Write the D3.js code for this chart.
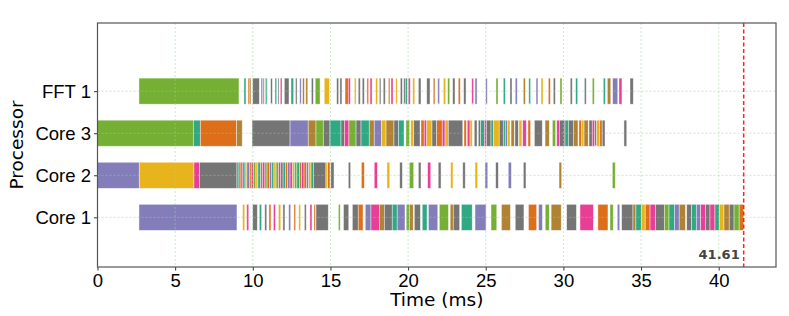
<!DOCTYPE html>
<html lang="en">
<head>
<meta charset="utf-8">
<script src="https://d3js.org/d3.v7.min.js"></script>
<style>
  body { margin: 0; background: white; }
  svg { font-family: 'DejaVu Sans', sans-serif; }
  .grid line { stroke: #9ad49a; stroke-width: 0.8; stroke-dasharray: 2,2; opacity: 0.65; }
  .axis text { font-size: 18.5px; fill: #000; }
  .axis line { stroke: #333; }
  .axis path { display: none; }
</style>
</head>
<body>
<svg width="789" height="316"></svg>
<script>
// processors, bottom to top
const processors = ["Core 1", "Core 2", "Core 3", "FFT 1"];
const xTicks = [0, 5, 10, 15, 20, 25, 30, 35, 40];
const makespan = 41.61;

// Dark2 palette keys
const palette = { T: "#1b9e77", O: "#d95f02", P: "#7570b3", K: "#e7298a",
                  G: "#66a61e", Y: "#e6ab02", B: "#a6761d", Gy: "#666666" };

// [start ms, end ms, colour key]
const core1 = [
  [2.67, 8.98, "P"], [9.34, 9.48, "Y"], [9.61, 9.74, "K"], [9.99, 10.29, "Gy"], [10.42, 10.57, "T"],
  [10.77, 10.9, "Gy"], [11.04, 11.17, "O"], [11.33, 11.46, "K"], [11.65, 11.8, "Y"], [11.94, 12.07, "Gy"],
  [12.31, 12.44, "P"], [12.65, 12.76, "O"], [12.96, 13.08, "Y"], [13.32, 13.44, "Gy"], [13.68, 13.81, "K"],
  [13.94, 14.04, "O"], [14.07, 14.86, "Gy"], [15.51, 15.63, "G"], [15.84, 16.18, "Gy"], [16.41, 16.79, "Gy"],
  [16.79, 17.1, "O"], [17.24, 17.61, "P"], [17.61, 18.15, "K"], [18.15, 18.47, "B"], [18.47, 18.98, "Gy"],
  [18.98, 19.3, "T"], [19.3, 19.8, "P"], [19.88, 20.08, "G"], [20.08, 20.33, "B"], [20.4, 20.79, "Gy"],
  [20.91, 21.22, "T"], [21.31, 21.91, "P"], [22.01, 22.6, "G"], [22.71, 22.91, "B"], [22.91, 23.32, "Gy"],
  [23.43, 24.13, "T"], [24.31, 25.02, "P"], [25.34, 25.71, "G"], [26.01, 26.59, "B"], [26.9, 27.46, "Gy"],
  [27.75, 28.28, "O"], [28.4, 28.65, "P"], [28.83, 29.09, "G"], [29.21, 29.86, "B"], [30.21, 30.84, "Gy"],
  [31.07, 31.93, "K"], [32.22, 32.87, "O"], [33.0, 33.21, "G"], [33.47, 33.63, "P"], [33.75, 34.48, "Gy"],
  [34.48, 34.67, "B"], [34.67, 35.02, "T"], [35.02, 35.27, "Y"], [35.27, 35.58, "O"], [35.58, 35.93, "K"],
  [35.93, 36.5, "Gy"], [36.5, 36.8, "G"], [36.8, 37.15, "T"], [37.15, 37.46, "P"], [37.46, 37.86, "B"],
  [37.94, 38.26, "Gy"], [38.26, 38.56, "T"], [38.56, 38.84, "P"], [38.84, 39.15, "K"], [39.15, 39.44, "Gy"],
  [39.44, 39.76, "K"], [39.76, 40.04, "T"], [40.04, 40.34, "Y"], [40.34, 40.68, "B"], [40.68, 40.99, "Gy"],
  [40.99, 41.32, "G"], [41.32, 41.61, "O"]
];

const core2 = [
  [0, 2.69, "P"], [2.69, 6.21, "Y"], [6.21, 6.56, "K"], [6.56, 8.98, "Gy"], [8.98, 9.11, "T"],
  [9.11, 9.24, "O"], [9.24, 9.36, "K"], [9.36, 9.5, "T"], [9.5, 9.62, "Y"], [9.62, 9.78, "P"],
  [9.78, 9.9, "O"], [9.9, 10.05, "K"], [10.05, 10.2, "G"], [10.2, 10.33, "Y"], [10.33, 10.5, "T"],
  [10.5, 10.62, "B"], [10.62, 10.78, "K"], [10.78, 10.92, "G"], [10.92, 11.07, "O"], [11.07, 11.22, "P"],
  [11.22, 11.36, "T"], [11.36, 11.5, "Y"], [11.5, 11.66, "G"], [11.66, 11.8, "K"], [11.8, 11.95, "Gy"],
  [11.95, 12.1, "T"], [12.1, 12.24, "O"], [12.24, 12.4, "P"], [12.4, 12.55, "K"], [12.55, 12.68, "Y"],
  [12.68, 12.84, "G"], [12.84, 13.0, "T"], [13.0, 13.14, "B"], [13.14, 13.3, "K"], [13.3, 13.45, "O"],
  [13.45, 13.6, "P"], [13.6, 13.75, "Y"], [13.75, 13.9, "T"], [13.9, 14.71, "Gy"], [14.71, 14.82, "Y"],
  [14.82, 14.97, "O"], [15.02, 15.23, "Gy"], [16.15, 16.3, "Gy"], [16.99, 17.18, "O"], [17.82, 18.02, "K"],
  [18.64, 18.82, "Y"], [19.46, 19.63, "Gy"], [20.08, 20.36, "G"], [20.66, 20.83, "Gy"], [21.26, 21.46, "K"],
  [21.94, 22.12, "Gy"], [22.74, 22.89, "Y"], [23.52, 23.68, "Gy"], [24.31, 24.48, "Y"], [24.95, 25.13, "P"],
  [25.64, 25.81, "Gy"], [26.45, 26.65, "P"], [27.42, 27.59, "Gy"], [29.72, 29.89, "B"], [33.15, 33.34, "G"]
];

const core3 = [
  [0, 6.17, "G"], [6.17, 6.62, "T"], [6.62, 8.96, "O"], [8.96, 9.32, "B"], [9.95, 12.4, "Gy"],
  [12.4, 13.57, "P"], [13.57, 14.07, "B"], [14.07, 14.54, "G"], [14.54, 14.97, "Gy"], [14.97, 15.68, "T"],
  [15.68, 15.9, "Gy"], [15.9, 16.19, "K"], [16.19, 16.65, "G"], [16.65, 16.97, "Gy"], [16.97, 17.5, "T"],
  [17.5, 17.82, "B"], [17.82, 18.29, "P"], [18.29, 18.58, "Y"], [18.58, 19.09, "B"], [19.09, 19.38, "Gy"],
  [19.38, 19.74, "T"], [19.86, 20.1, "G"], [20.17, 20.36, "Y"], [20.36, 20.77, "Gy"], [20.83, 21.04, "O"],
  [21.04, 21.2, "K"], [21.2, 21.54, "Y"], [21.54, 21.84, "Gy"], [21.84, 22.2, "O"], [22.2, 22.38, "K"],
  [22.38, 22.59, "Y"], [22.59, 23.52, "Gy"], [23.6, 23.75, "O"], [23.81, 23.99, "K"], [23.99, 24.13, "Y"],
  [24.26, 24.44, "Gy"], [24.52, 24.67, "Gy"], [24.67, 24.91, "T"], [24.91, 25.04, "K"], [25.04, 25.34, "Gy"],
  [25.34, 25.49, "T"], [25.49, 25.87, "Y"], [25.87, 26.13, "Gy"], [26.13, 26.26, "T"], [26.26, 26.4, "P"],
  [26.4, 26.56, "Y"], [26.63, 26.84, "B"], [26.88, 27.1, "Gy"], [27.14, 27.33, "Y"], [27.38, 27.61, "K"],
  [27.72, 27.89, "O"], [28.13, 28.64, "Gy"], [28.82, 29.09, "B"], [29.29, 29.5, "G"], [29.57, 29.74, "K"],
  [29.74, 30.1, "Gy"], [30.1, 30.32, "T"], [30.32, 30.64, "Gy"], [30.64, 30.94, "B"], [31.0, 31.18, "O"],
  [31.18, 31.33, "Y"], [31.33, 31.6, "B"], [31.65, 31.86, "Gy"], [31.86, 32.02, "K"], [32.02, 32.14, "Gy"],
  [32.14, 32.34, "Y"], [32.34, 32.5, "O"], [32.5, 32.68, "Gy"], [33.9, 34.08, "Gy"]
];

const fft1 = [
  [2.67, 9.11, "G"], [9.43, 9.56, "T"], [9.69, 9.77, "O"], [9.77, 9.88, "B"], [9.99, 10.42, "Gy"],
  [10.53, 10.64, "P"], [10.66, 10.74, "B"], [10.79, 10.85, "G"], [10.85, 10.93, "T"], [11.15, 11.26, "Gy"],
  [11.43, 11.54, "T"], [11.62, 11.69, "Gy"], [11.77, 11.88, "K"], [12.03, 12.33, "Gy"], [12.46, 12.63, "T"],
  [12.75, 12.85, "Gy"], [13.02, 13.12, "P"], [13.21, 13.32, "B"], [13.41, 13.54, "B"], [13.77, 13.9, "Gy"],
  [14.02, 14.33, "G"], [14.6, 14.93, "Y"], [15.4, 15.53, "Gy"], [15.61, 15.74, "Gy"], [15.94, 16.15, "O"],
  [16.15, 16.28, "K"], [16.54, 16.65, "Y"], [16.79, 16.92, "Gy"], [17.05, 17.18, "Gy"], [17.35, 17.46, "O"],
  [17.55, 17.68, "K"], [17.91, 18.04, "Y"], [18.15, 18.25, "Gy"], [18.4, 18.53, "Gy"], [18.73, 18.83, "O"],
  [18.9, 19.03, "K"], [19.2, 19.3, "Y"], [19.5, 19.63, "Gy"], [19.72, 19.82, "Gy"], [19.82, 19.95, "T"],
  [20.01, 20.14, "K"], [20.3, 20.43, "Y"], [20.66, 20.83, "Gy"], [21.2, 21.41, "Gy"], [21.62, 21.73, "O"],
  [21.91, 22.03, "P"], [22.27, 22.42, "Y"], [22.55, 22.68, "G"], [22.87, 23.02, "Gy"], [23.23, 23.36, "O"],
  [23.58, 23.73, "Gy"], [24.1, 24.22, "K"], [24.31, 24.44, "P"], [25.0, 25.1, "P"], [25.66, 25.79, "G"],
  [26.13, 26.26, "T"], [26.56, 26.69, "Gy"], [26.9, 27.03, "P"], [27.42, 27.55, "B"], [27.77, 27.89, "T"],
  [28.24, 28.36, "P"], [28.56, 28.69, "Y"], [29.03, 29.16, "O"], [29.35, 29.48, "Gy"], [29.78, 29.91, "G"],
  [30.44, 30.57, "Gy"], [30.79, 30.92, "T"], [31.35, 31.47, "Gy"], [31.86, 31.99, "G"], [32.57, 32.7, "T"],
  [32.83, 33.05, "B"], [33.17, 33.5, "P"], [33.58, 33.77, "K"], [34.29, 34.5, "Gy"]
];

const rows = [core1, core2, core3, fft1];

const margin = { top: 23, right: 13, bottom: 49, left: 97.5 };
const width = 789, height = 316;
const svg = d3.select("svg");

const x = d3.scaleLinear().domain([0, makespan * 1.05]).range([margin.left, width - margin.right]);
const y = d3.scaleLinear().domain([-1.18, 4.62]).range([height - margin.bottom, margin.top]);
const barH = y(0) - y(0.62);

// bars
const gBars = svg.append("g");
rows.forEach(function (row, i) {
  gBars.selectAll(null)
    .data(row)
    .enter().append("rect")
    .attr("x", d => x(d[0]))
    .attr("width", d => Math.max(0.5, x(d[1]) - x(d[0])))
    .attr("y", y(i) - barH / 2)
    .attr("height", barH)
    .attr("fill", d => palette[d[2]])
    .attr("fill-opacity", 0.9)
    .attr("stroke", "white")
    .attr("stroke-width", 0.7)
    .attr("stroke-opacity", 0.6);
});

// grid on top
const grid = svg.append("g").attr("class", "grid");
grid.selectAll(null).data(xTicks).enter().append("line")
  .attr("x1", d => x(d)).attr("x2", d => x(d))
  .attr("y1", margin.top).attr("y2", height - margin.bottom);
grid.selectAll(null).data(processors).enter().append("line")
  .attr("x1", margin.left).attr("x2", width - margin.right)
  .attr("y1", (d, i) => y(i)).attr("y2", (d, i) => y(i));

// makespan line
svg.append("line")
  .attr("x1", x(makespan)).attr("x2", x(makespan))
  .attr("y1", margin.top).attr("y2", height - margin.bottom)
  .attr("stroke", "#ff2020").attr("stroke-width", 1.5).attr("stroke-dasharray", "4,2.5");
svg.append("text")
  .attr("x", x(makespan) - 4).attr("y", height - margin.bottom - 8)
  .attr("text-anchor", "end")
  .attr("font-size", 13).attr("font-weight", "bold").attr("fill", "#444")
  .text(makespan.toFixed(2));

// axes
svg.append("g").attr("class", "axis")
  .attr("transform", "translate(0," + (height - margin.bottom) + ")")
  .call(d3.axisBottom(x).tickValues(xTicks).tickSize(3.5).tickPadding(3));
svg.append("g").attr("class", "axis")
  .attr("transform", "translate(" + margin.left + ",0)")
  .call(d3.axisLeft(y).tickValues([0, 1, 2, 3]).tickFormat(i => processors[i]).tickSize(3.5).tickPadding(3));

// frame
svg.append("rect")
  .attr("x", margin.left).attr("y", margin.top)
  .attr("width", width - margin.right - margin.left)
  .attr("height", height - margin.bottom - margin.top)
  .attr("fill", "none").attr("stroke", "#555").attr("stroke-width", 1.2);

// axis titles
svg.append("text")
  .attr("x", (margin.left + width - margin.right) / 2).attr("y", 306)
  .attr("text-anchor", "middle").attr("font-size", 18.5).text("Time (ms)");
svg.append("text")
  .attr("transform", "translate(23," + ((margin.top + height - margin.bottom) / 2) + ") rotate(-90)")
  .attr("text-anchor", "middle").attr("font-size", 18.5).text("Processor");
</script>
</body>
</html>
